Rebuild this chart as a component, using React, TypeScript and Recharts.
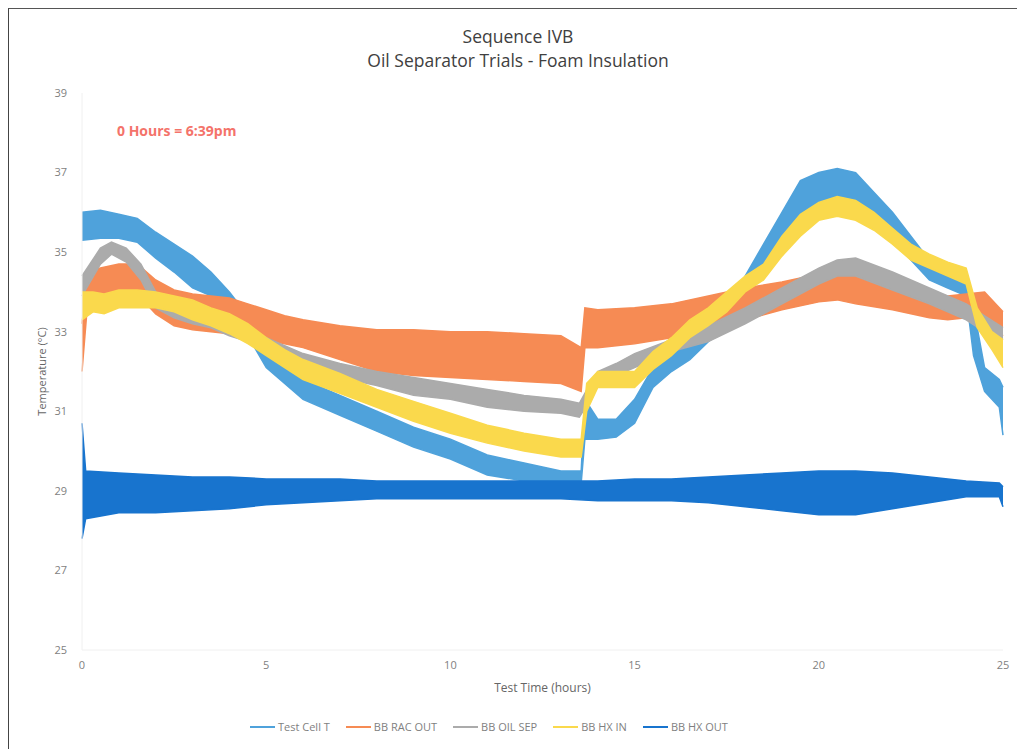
import { ComposedChart, Area, XAxis, YAxis } from 'recharts';

// hours, band top and band bottom (°C) for each sensor
const cellHours = [0, 0.5, 1, 1.5, 2, 2.5, 3, 3.5, 4, 4.5, 5, 5.5, 6, 7, 8, 9, 10, 11, 12, 12.5, 13, 13.55, 13.65, 14, 14.5, 15, 15.5, 16, 16.5, 17, 17.5, 18, 18.5, 19, 19.5, 20, 20.5, 21, 21.5, 22, 22.5, 23, 23.5, 24, 24.2, 24.5, 24.9, 25];
const cellHigh = [36.0, 36.05, 35.95, 35.85, 35.5, 35.2, 34.9, 34.5, 34.0, 33.4, 32.7, 32.2, 31.8, 31.4, 31.0, 30.6, 30.3, 29.9, 29.7, 29.6, 29.5, 29.5, 31.3, 30.8, 30.8, 31.3, 32.1, 32.5, 32.8, 33.2, 33.6, 34.4, 35.2, 36.0, 36.8, 37.0, 37.1, 37.0, 36.5, 36.0, 35.4, 34.8, 34.5, 34.3, 33.6, 32.1, 31.8, 31.6];
const cellLow = [35.3, 35.35, 35.35, 35.25, 34.85, 34.5, 34.1, 33.9, 33.55, 32.9, 32.1, 31.7, 31.3, 30.9, 30.5, 30.1, 29.8, 29.4, 29.25, 29.2, 29.2, 29.2, 30.3, 30.3, 30.35, 30.7, 31.6, 32.0, 32.3, 32.75, 33.1, 33.9, 34.5, 35.2, 35.8, 36.1, 36.3, 36.3, 35.8, 35.4, 34.8, 34.3, 34.1, 33.9, 32.4, 31.5, 31.1, 30.4];

const racHours = [0, 0.15, 0.5, 1, 1.5, 2, 2.5, 3, 3.5, 4, 4.5, 5, 5.5, 6, 7, 8, 9, 10, 11, 12, 13, 13.55, 13.65, 14, 15, 16, 17, 18, 19, 20, 20.5, 21, 22, 23, 23.5, 24, 24.5, 25];
const racHigh = [33.2, 34.5, 34.6, 34.7, 34.7, 34.3, 34.05, 33.95, 33.9, 33.85, 33.7, 33.55, 33.4, 33.3, 33.15, 33.05, 33.05, 33.0, 33.0, 32.95, 32.9, 32.6, 33.6, 33.55, 33.6, 33.7, 33.9, 34.1, 34.25, 34.45, 34.55, 34.5, 34.2, 34.0, 33.9, 33.95, 34.0, 33.5];
const racLow = [32.0, 33.7, 33.85, 33.95, 33.95, 33.45, 33.15, 33.05, 33.0, 32.95, 32.9, 32.8, 32.7, 32.6, 32.3, 32.0, 31.9, 31.85, 31.8, 31.75, 31.7, 31.5, 32.6, 32.6, 32.7, 32.85, 33.05, 33.3, 33.55, 33.75, 33.8, 33.7, 33.55, 33.35, 33.3, 33.35, 33.4, 32.9];

const sepHours = [0, 0.5, 0.8, 1.2, 1.6, 2, 2.5, 3, 3.5, 4, 4.5, 5, 6, 7, 8, 9, 10, 11, 12, 13, 13.5, 13.8, 14, 14.5, 15, 16, 17, 18, 19, 20, 20.5, 21, 22, 23, 24, 24.5, 25];
const sepHigh = [34.4, 35.1, 35.25, 35.1, 34.7, 34.0, 33.7, 33.6, 33.45, 33.25, 33.05, 32.85, 32.45, 32.2, 32.0, 31.85, 31.7, 31.55, 31.4, 31.3, 31.2, 31.7, 32.0, 32.2, 32.45, 32.8, 33.15, 33.6, 34.1, 34.6, 34.8, 34.85, 34.5, 34.1, 33.7, 33.4, 33.1];
const sepLow = [33.9, 34.7, 34.95, 34.75, 34.3, 33.6, 33.35, 33.2, 33.1, 32.9, 32.75, 32.55, 32.1, 31.85, 31.65, 31.4, 31.3, 31.1, 31.0, 30.95, 30.85, 31.3, 31.7, 31.9, 32.1, 32.5, 32.75, 33.2, 33.7, 34.2, 34.4, 34.4, 34.05, 33.7, 33.3, 33.0, 32.8];

const hxInHours = [0, 0.3, 0.6, 1, 1.5, 2, 2.5, 3, 3.5, 4, 4.5, 5, 5.5, 6, 7, 8, 9, 10, 11, 12, 13, 13.55, 13.7, 14, 14.5, 15, 15.5, 16, 16.5, 17, 17.5, 18, 18.5, 19, 19.5, 20, 20.5, 21, 21.5, 22, 22.5, 23, 23.5, 24, 24.3, 24.7, 25];
const hxInHigh = [34.0, 34.0, 33.95, 34.05, 34.05, 34.0, 33.9, 33.8, 33.6, 33.45, 33.2, 32.85, 32.55, 32.3, 31.95, 31.55, 31.25, 30.95, 30.65, 30.45, 30.3, 30.3, 31.7, 32.0, 32.0, 32.0, 32.5, 32.85, 33.3, 33.6, 34.0, 34.4, 34.7, 35.4, 35.95, 36.25, 36.4, 36.3, 36.0, 35.6, 35.2, 34.95, 34.75, 34.6, 33.6, 33.0, 32.8];
const hxInLow = [33.3, 33.5, 33.45, 33.6, 33.6, 33.6, 33.5, 33.3, 33.15, 32.95, 32.7, 32.4, 32.1, 31.8, 31.45, 31.1, 30.75, 30.45, 30.2, 30.0, 29.85, 29.85, 31.0, 31.6, 31.6, 31.6, 32.05, 32.4, 32.85, 33.15, 33.5, 34.0, 34.3, 34.9, 35.4, 35.8, 35.9, 35.8, 35.55, 35.2, 34.8, 34.6, 34.4, 34.2, 33.1, 32.55, 32.1];

const hxOutHours = [0, 0.1, 1, 2, 3, 4, 5, 6, 7, 8, 9, 10, 11, 12, 13, 14, 15, 16, 17, 18, 19, 20, 21, 22, 23, 24, 24.9, 25];
const hxOutHigh = [30.7, 29.5, 29.45, 29.4, 29.35, 29.35, 29.3, 29.3, 29.3, 29.25, 29.25, 29.25, 29.25, 29.25, 29.25, 29.25, 29.3, 29.3, 29.35, 29.4, 29.45, 29.5, 29.5, 29.45, 29.35, 29.25, 29.2, 29.1];
const hxOutLow = [27.8, 28.3, 28.45, 28.45, 28.5, 28.55, 28.65, 28.7, 28.75, 28.8, 28.8, 28.8, 28.8, 28.8, 28.8, 28.75, 28.75, 28.75, 28.7, 28.6, 28.5, 28.4, 28.4, 28.55, 28.7, 28.85, 28.85, 28.6];

const xTicks = [0, 5, 10, 15, 20, 25];
const yTicks = [25, 27, 29, 31, 33, 35, 37, 39];

const toBand = (hours: number[], high: number[], low: number[]) =>
  hours.map((h, i) => ({ h, band: [low[i], high[i]] }));

const series = [
  { name: 'Test Cell T', color: '#4FA2DB', data: toBand(cellHours, cellHigh, cellLow) },
  { name: 'BB RAC OUT', color: '#F68B54', data: toBand(racHours, racHigh, racLow) },
  { name: 'BB OIL SEP', color: '#ABABAB', data: toBand(sepHours, sepHigh, sepLow) },
  { name: 'BB HX IN', color: '#FAD94C', data: toBand(hxInHours, hxInHigh, hxInLow) },
  { name: 'BB HX OUT', color: '#1874CE', data: toBand(hxOutHours, hxOutHigh, hxOutLow) },
];

const font = "'Open Sans', sans-serif";
const tickStyle = { fill: '#7f7f7f', fontSize: 11, fontFamily: font };

export default function App() {
  return (
    <div style={{ position: 'relative', width: 1017, height: 741, background: '#fff', fontFamily: font }}>
      <div style={{ position: 'absolute', left: -1, top: -1, width: 1017, height: 741, borderTop: '2px solid #555', borderLeft: '2px solid #444', pointerEvents: 'none' }} />
      <div style={{ position: 'absolute', left: 0, top: 16, width: 1020, textAlign: 'center', color: '#404040', fontSize: 17.5, lineHeight: '24px' }}>
        <div>Sequence IVB</div>
        <div>Oil Separator Trials - Foam Insulation</div>
      </div>
      <div style={{ position: 'absolute', left: 109, top: 113, color: '#F4736A', fontSize: 14, fontWeight: 700, letterSpacing: 0 }}>
        0 Hours = 6:39pm
      </div>
      <ComposedChart width={1017} height={700} margin={{ top: 85, right: 22, bottom: 0, left: 0 }}>
        <XAxis
          dataKey="h"
          type="number"
          domain={[0, 25]}
          ticks={xTicks}
          allowDuplicatedCategory={false}
          height={58}
          tickSize={0}
          tickMargin={11}
          tick={tickStyle}
          axisLine={{ stroke: '#f0f0f0' }}
          label={{ value: 'Test Time (hours)', position: 'center', dy: 9, style: { fill: '#666', fontSize: 12, fontFamily: font } }}
        />
        <YAxis
          type="number"
          domain={[25, 39]}
          ticks={yTicks}
          width={74}
          tickSize={0}
          tickMargin={15}
          tick={tickStyle}
          axisLine={{ stroke: '#f0f0f0' }}
          label={{ value: 'Temperature (°C)', angle: -90, position: 'center', dx: -3, style: { fill: '#666', fontSize: 11, fontFamily: font, textAnchor: 'middle' } }}
        />
        {series.map((s) => (
          <Area
            key={s.name}
            data={s.data}
            dataKey="band"
            name={s.name}
            type="linear"
            stroke={s.color}
            strokeWidth={1.5}
            fill={s.color}
            fillOpacity={1}
            isAnimationActive={false}
            dot={false}
            activeDot={false}
          />
        ))}
      </ComposedChart>
      <div style={{ position: 'absolute', left: 242, top: 711, display: 'flex', alignItems: 'center', gap: 16, color: '#7f7f7f', fontSize: 11 }}>
        {series.map((s) => (
          <div key={s.name} style={{ display: 'flex', alignItems: 'center', gap: 3 }}>
            <span style={{ display: 'inline-block', width: 25, height: 2, background: s.color }} />
            <span>{s.name}</span>
          </div>
        ))}
      </div>
    </div>
  );
}
